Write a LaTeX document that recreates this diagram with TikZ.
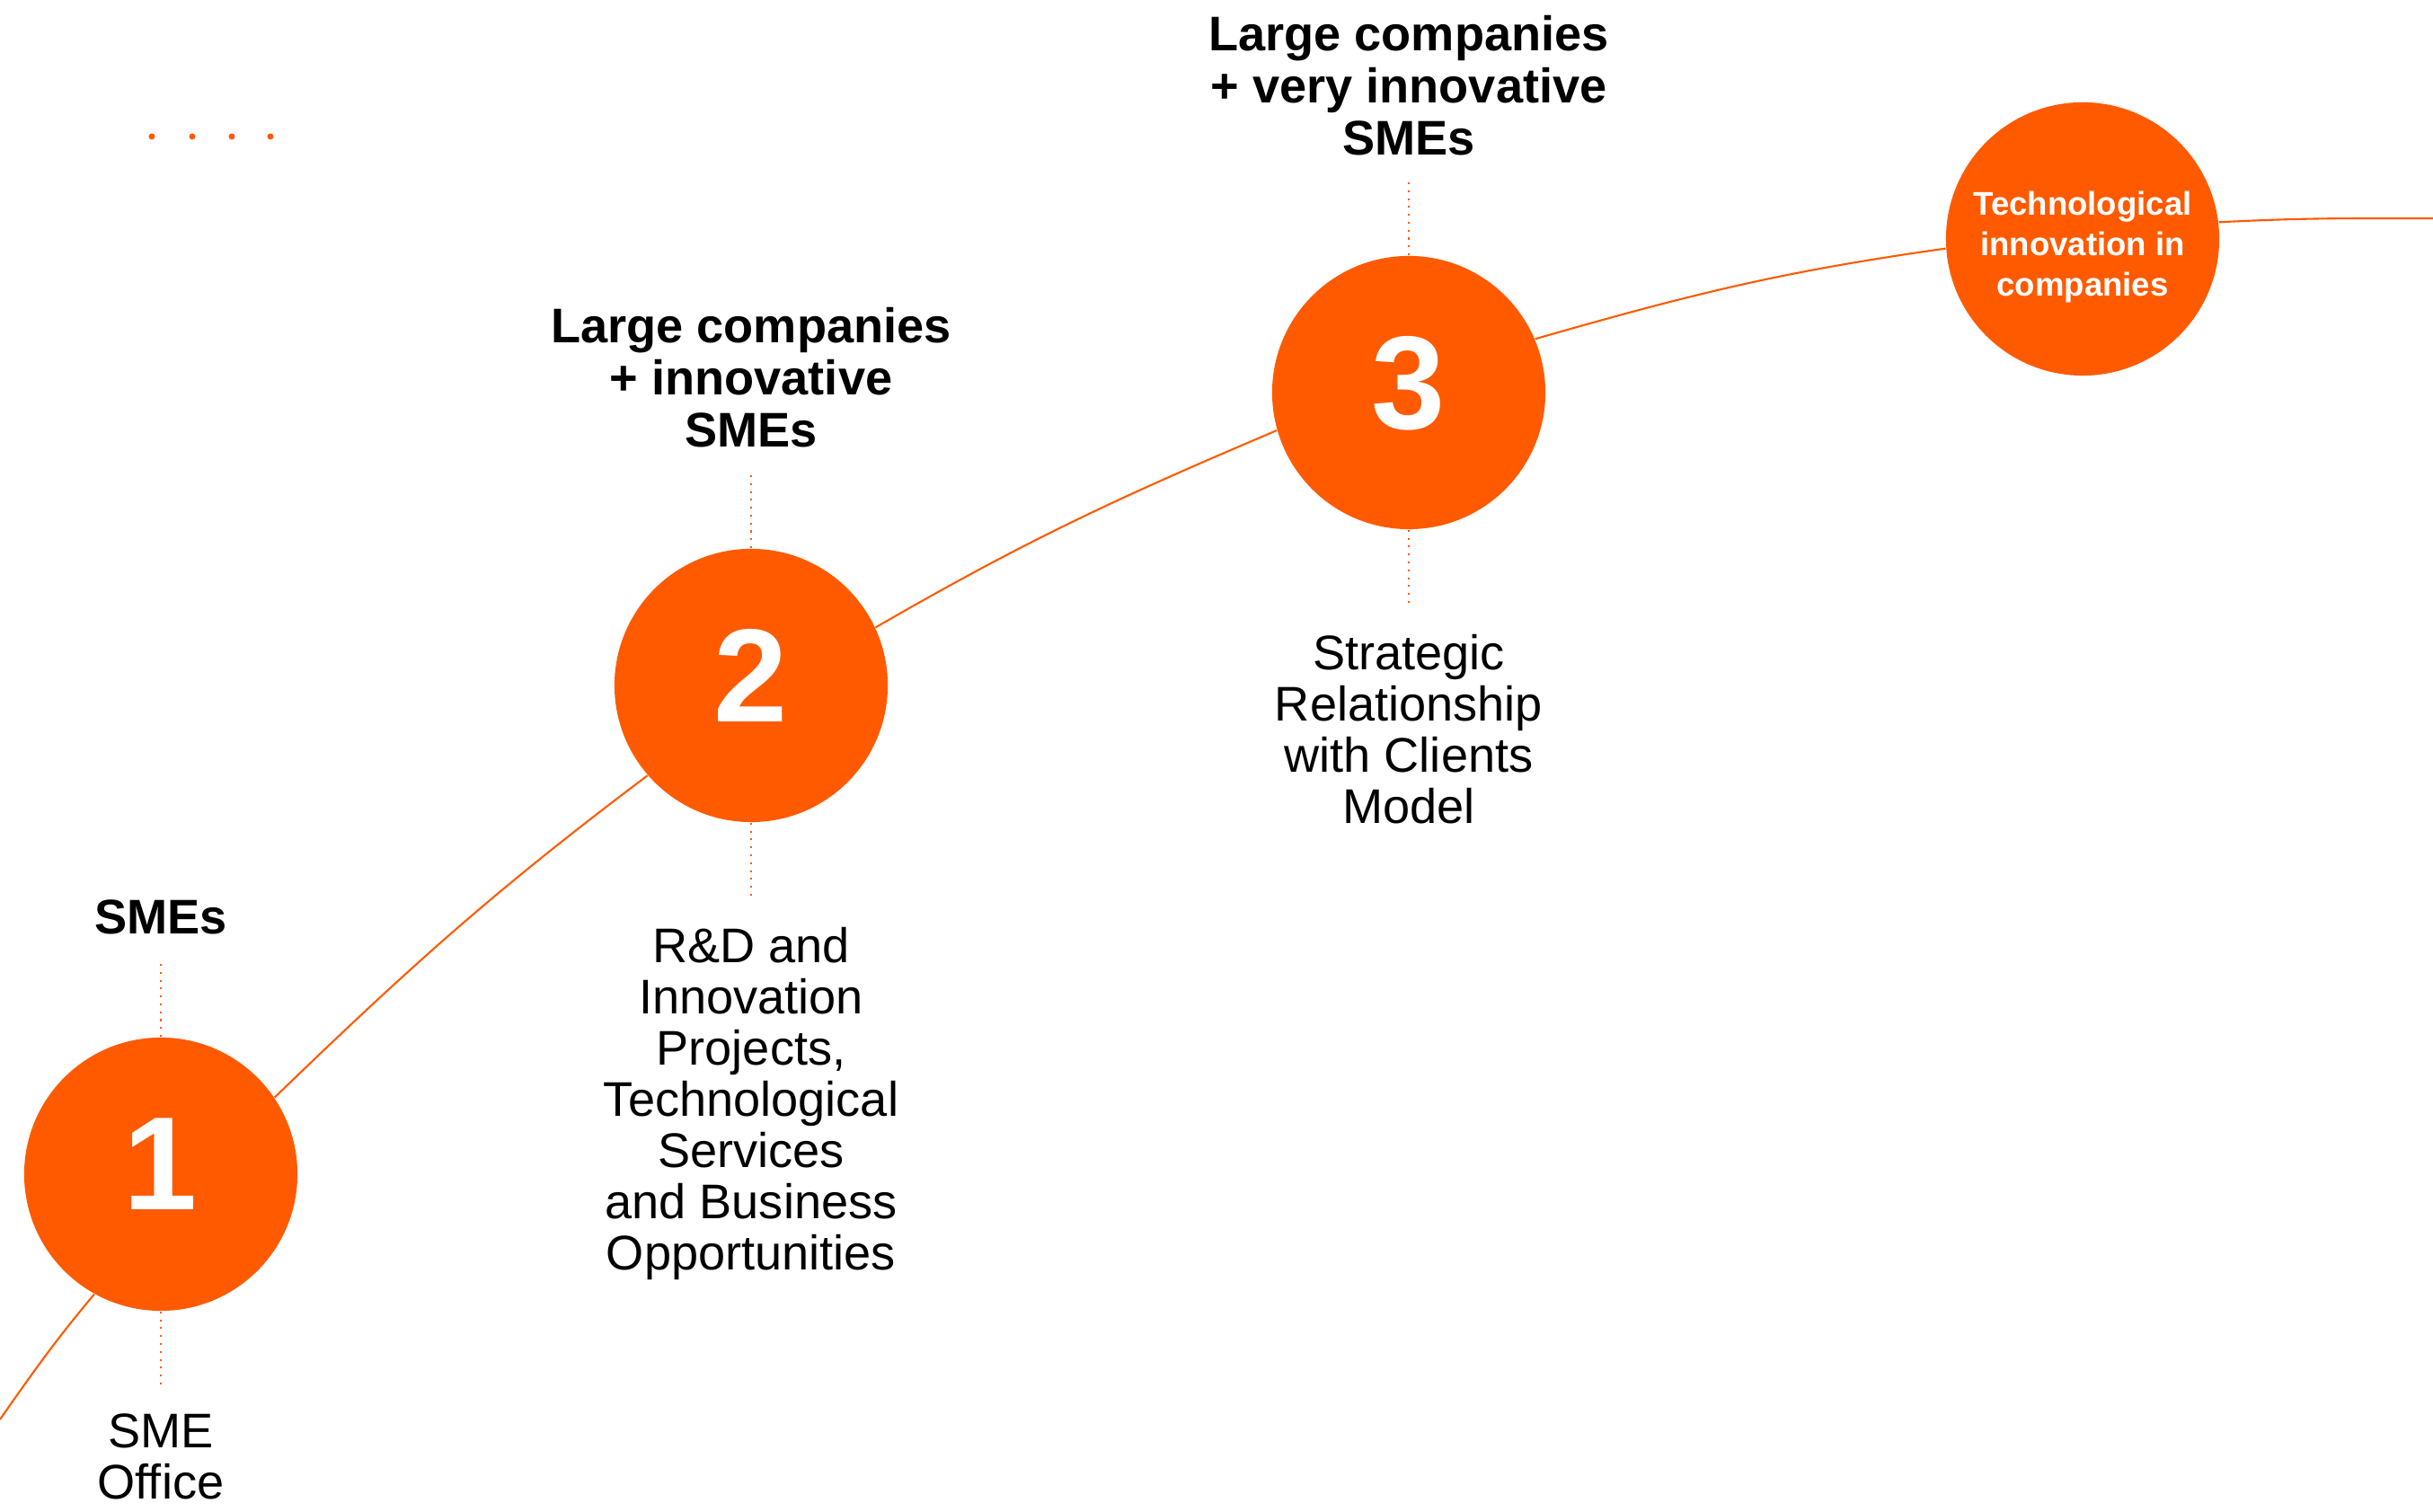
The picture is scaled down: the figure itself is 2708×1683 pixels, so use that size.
\documentclass[tikz,border=0pt]{standalone}
\usepackage{fontspec}
\setmainfont{Liberation Sans}
\usetikzlibrary{positioning}
\definecolor{sunset}{HTML}{FF5A00}
\begin{document}
\begin{tikzpicture}[x=0.01cm, y=0.01cm,
    disc/.style={circle, fill=sunset, minimum size=3.04cm, inner sep=0pt, text=white},
    stage/.style={disc, text depth=0.22cm, font=\bfseries\fontsize{42}{42}\selectfont},
    goal/.style={align=center, inner sep=0pt, text=white, font=\bfseries\fontsize{10.4}{12.8}\selectfont},
    who/.style={align=center, inner sep=0pt, font=\bfseries\fontsize{15.4}{16.6}\selectfont},
    how/.style={align=center, inner sep=0pt, font=\fontsize{15.4}{16.2}\selectfont},
    curve/.style={draw=sunset, line width=0.6pt},
    tick/.style={draw=sunset, line width=0.6pt, dash pattern=on 0.6pt off 1.9pt}]
    \useasboundingbox (0,0) rectangle (2708,1683);

    % four dots, top left
    \foreach \x in {169,214,258,301}
        \fill[sunset] (\x,1531) circle (0.035cm);

    \node[stage] (s1) at (179,376) {1};
    \node[stage] (s2) at (836,920) {2};
    \node[stage] (s3) at (1568,1246) {3};
    \node[disc] (s4) at (2318,1417) {};
    \node[goal] (goal) at ([yshift=-0.09cm]s4.center) {Technological\\innovation in\\companies};

    \coordinate (start) at (0,103);
    \coordinate (finish) at (2708,1440);

    \draw[curve] (start) to[out=55,in=230] (s1.241)
        (s1.34) to[out=44,in=217] (s2.221)
        (s2.25) to[out=30,in=203] (s3.196)
        (s3.23) to[out=16,in=188] (s4.184)
        (s4.7) to[out=3,in=180] (finish);

    \foreach \n in {1,2,3} {
        \draw[tick] (s\n.north) -- ++(0,83) coordinate (up\n);
        \draw[tick] (s\n.south) -- ++(0,-83) coordinate (down\n);
    }

    \node[who, above=0.3cm of up1] (who1) {SMEs};
    \node[who, above=0.28cm of up2] (who2) {Large companies\\+ innovative\\SMEs};
    \node[who, above=0.27cm of up3] (who3) {Large companies\\+ very innovative\\SMEs};

    \node[how, below=0.3cm of down1] (how1) {SME\\Office};
    \node[how, below=0.33cm of down2] (how2) {R\&D and\\Innovation\\Projects,\\Technological\\Services\\and Business\\Opportunities};
    \node[how, below=0.33cm of down3] (how3) {Strategic\\Relationship\\with Clients\\Model};
\end{tikzpicture}
\end{document}
